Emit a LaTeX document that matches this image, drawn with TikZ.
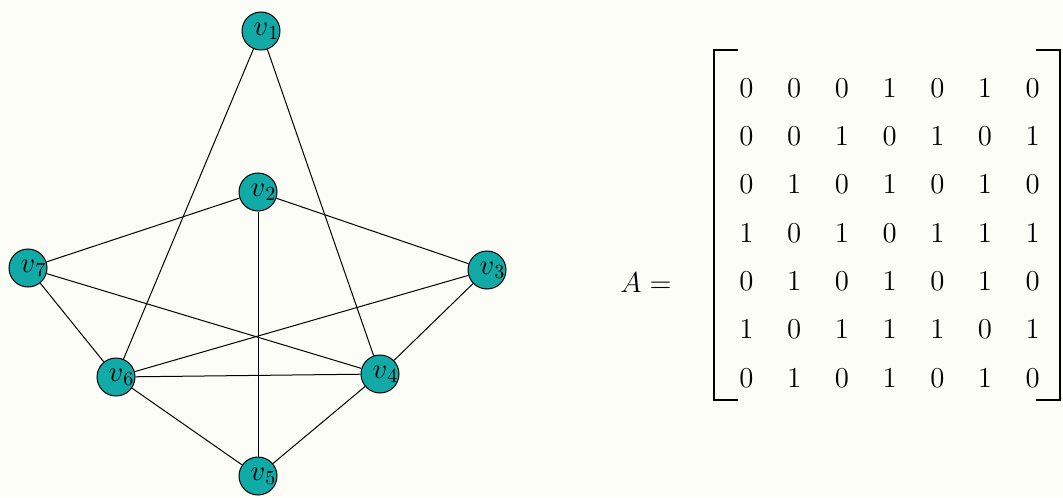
\documentclass[tikz,border=0pt]{standalone}
\usepackage{amsmath}
\begin{document}
\begin{tikzpicture}[x=0.5pt,y=-0.5pt,
  vert/.style={circle,draw=black,line width=0.5pt,fill=vteal,minimum size=19pt,inner sep=0pt,font=\fontsize{14.5}{17}\selectfont},
  edge/.style={line width=0.5pt,black},
  entry/.style={font=\fontsize{14}{17}\selectfont,inner sep=0pt,anchor=center},
  brk/.style={line width=0.8pt,black}]
\definecolor{vteal}{RGB}{18,170,166}
\definecolor{bgc}{RGB}{252,253,247}
\fill[bgc] (0,0) rectangle (1063,497);
\useasboundingbox (0,0) rectangle (1063,497);
% vertices
\node[vert] (v1) at (261,31) {$v\rlap{$_1$}$};
\node[vert] (v2) at (258,192) {$v\rlap{$_2$}$};
\node[vert] (v3) at (487,270) {$v\rlap{$_3$}$};
\node[vert] (v4) at (380,374) {$v\rlap{$_4$}$};
\node[vert] (v5) at (258,476) {$v\rlap{$_5$}$};
\node[vert] (v6) at (116,377) {$v\rlap{$_6$}$};
\node[vert] (v7) at (28,268) {$v\rlap{$_7$}$};
% edges
\draw[edge] (v1) -- (v6);
\draw[edge] (v1) -- (v4);
\draw[edge] (v2) -- (v7);
\draw[edge] (v2) -- (v3);
\draw[edge] (v2) -- (v5);
\draw[edge] (v7) -- (v4);
\draw[edge] (v7) -- (v6);
\draw[edge] (v3) -- (v6);
\draw[edge] (v3) -- (v4);
\draw[edge] (v6) -- (v4);
\draw[edge] (v6) -- (v5);
\draw[edge] (v4) -- (v5);
% matrix label
\node[entry] (A) at (646,283) {$A=$};
% matrix entries
\foreach \row [count=\i] in {{0,0,0,1,0,1,0},{0,0,1,0,1,0,1},{0,1,0,1,0,1,0},{1,0,1,0,1,1,1},{0,1,0,1,0,1,0},{1,0,1,1,1,0,1},{0,1,0,1,0,1,0}}{
  \foreach \e [count=\j] in \row {
    \node[entry] (m\i-\j) at ({746.5+(\j-1)*47.7},{88+(\i-1)*48.3}) {$\e$};
  }
}
% brackets
\coordinate (lt) at (738,50);
\coordinate (lb) at (738,400);
\coordinate (rt) at (1036,50);
\coordinate (rb) at (1036,400);
\draw[brk] (lt) -- ++(-24,0) |- (lb);
\draw[brk] (rt) -- ++(24,0) |- (rb);
\end{tikzpicture}
\end{document}
